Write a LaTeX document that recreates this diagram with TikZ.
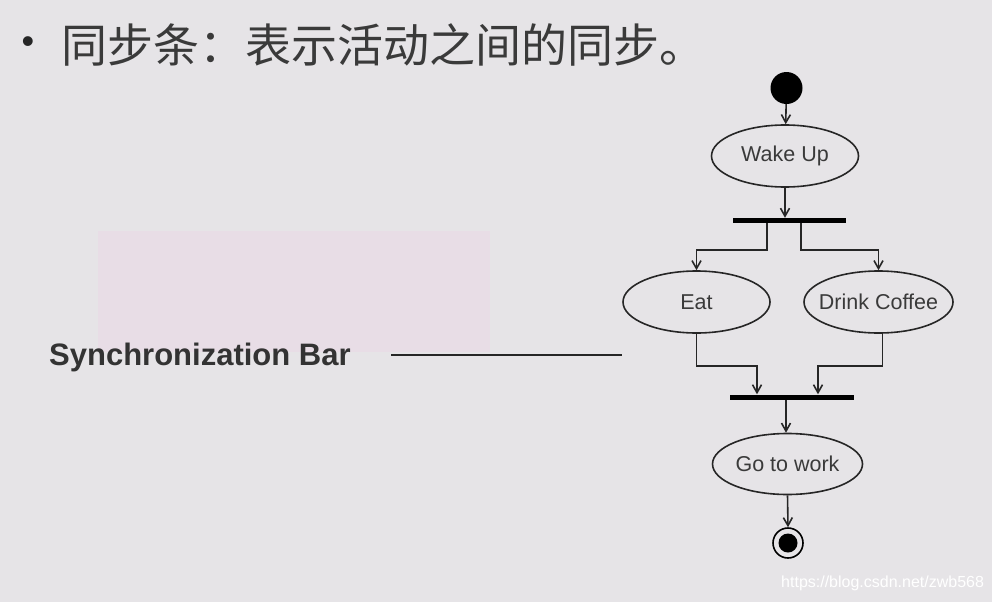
\documentclass[tikz,border=0pt]{standalone}
\usepackage{fontspec}
\setmainfont{Liberation Sans}
\newfontfamily\cjk{Noto Sans CJK SC}
\usetikzlibrary{shapes.geometric,arrows.meta,positioning}
\definecolor{slidebg}{HTML}{E6E4E7}
\definecolor{pinkpatch}{HTML}{E8DDE6}
\definecolor{inkgray}{HTML}{3A3A3A}
\begin{document}
\begin{tikzpicture}[
      x=1pt, y=-1pt,
      activity/.style={ellipse, draw=black!85, line width=1.6pt, fill=none,
        minimum width=147pt, minimum height=62pt, inner xsep=-12pt, inner ysep=0pt,
        font=\fontsize{21.5}{24}\selectfont, text=inkgray},
      syncbar/.style={rectangle, fill=black, minimum height=5pt, inner sep=0pt},
      startstate/.style={circle, fill=black, minimum size=32pt, inner sep=0pt},
      endstate/.style={circle, draw=black, line width=1.6pt, minimum size=30pt,
        inner sep=0pt, path picture={\fill[black] (path picture bounding box.center) circle (9.5pt);}},
      flow/.style={line width=1.6pt, draw=black!85, -{Straight Barb[length=8pt,width=9pt]}},
      pointer/.style={line width=2.8pt, draw=black!85},
    ]
    % -------------------------------------------------------
    %  slide background
    % -------------------------------------------------------
    \fill[slidebg] (0,0) rectangle (992,602);
    \useasboundingbox (0,0) rectangle (992,602);
    \fill[pinkpatch] (98,231) rectangle (490,352);

    % -------------------------------------------------------
    %  heading
    % -------------------------------------------------------
    \node[font=\fontsize{36}{38}\selectfont, text=black!85, inner sep=0pt] (dot) at (28,45) {\textbullet};
    \node[anchor=west, inner sep=0pt, text=inkgray,
          font=\cjk\fontsize{46}{50}\selectfont] (heading) at (61,45)
          {同步条：表示活动之间的同步。};

    % -------------------------------------------------------
    %  activity diagram
    % -------------------------------------------------------
    \node[startstate] (start) at (786.5,88) {};
    \node[activity] (wake) at (785,156) {Wake Up};
    \node[syncbar, minimum width=113pt] (forkbar) at (789.5,220.5) {};
    \node[activity] (eat) at (696.5,302) {Eat};
    \node[activity, minimum width=149pt] (drink) at (878.5,302) {Drink Coffee};
    \node[syncbar, minimum width=124pt] (joinbar) at (792,397) {};
    \node[activity, minimum width=150pt, minimum height=61pt] (work) at (787.5,464) {Go to work};
    \node[endstate] (stop) at (788,543) {};

    \draw[flow] (start) -- (wake);
    \draw[flow] (wake) -- (wake |- forkbar.north);

    % fork
    \draw[flow] ([xshift=-22.5pt]forkbar.south) -- ++(0,27) -| (eat.north);
    \draw[flow] ([xshift=11.5pt]forkbar.south) -- ++(0,27) -| (drink.north);

    % join
    \draw[flow] (eat.south) -- ++(0,32) -| ([xshift=-35pt]joinbar.north);
    \draw[flow] ([xshift=4pt]drink.south) -- ++(0,32) -| ([xshift=26pt]joinbar.north);

    \draw[flow] ([xshift=-6pt]joinbar.south) -- ([xshift=-1.5pt]work.north);
    \draw[flow] (work.south) -- (stop.north);

    % -------------------------------------------------------
    %  label for the bar
    % -------------------------------------------------------
    \node[anchor=base west, inner sep=0pt, text=black!80,
          font=\bfseries\fontsize{31}{34}\selectfont] (synclabel) at (49,365)
          {Synchronization Bar};
    \coordinate (barline-a) at (391,355);
    \coordinate (barline-b) at (622,355);
    \draw[pointer] (barline-a) -- (barline-b);

    % watermark
    \node[anchor=west, inner sep=0pt, text=white,
          font=\fontsize{16}{18}\selectfont] (mark) at (781,583)
          {https://blog.csdn.net/zwb568};
  \end{tikzpicture}
\end{document}
